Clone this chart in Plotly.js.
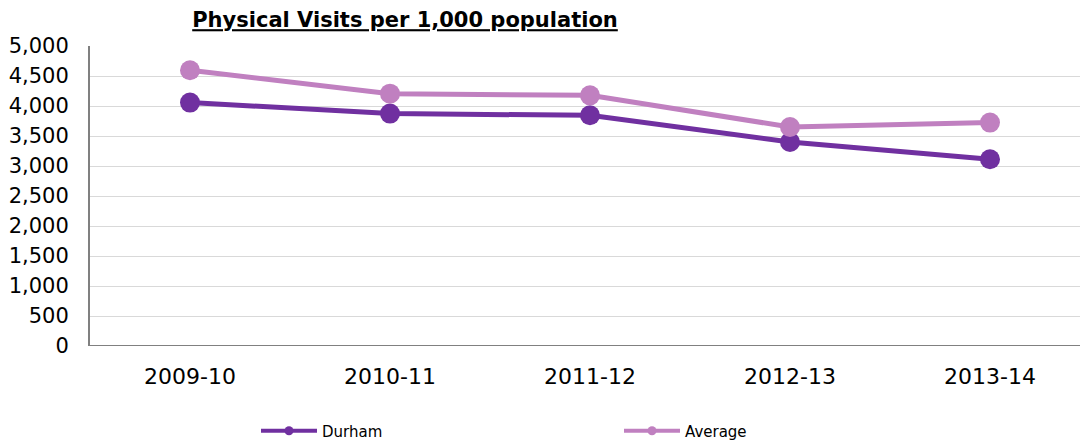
<!DOCTYPE html>
<html>
<head>
<meta charset="utf-8">
<script src="https://cdn.plot.ly/plotly-3.0.1.min.js"></script>
<style>html,body{margin:0;padding:0;background:#fff;}#chart{width:1081px;height:441px;}</style>
</head>
<body>
<div id="chart"></div>
<script>
const categories = ["2009-10", "2010-11", "2011-12", "2012-13", "2013-14"];
const durham = [4057, 3873, 3845, 3400, 3112];
const average = [4595, 4206, 4178, 3650, 3723];
const seriesNames = ["Durham", "Average"];
const seriesColors = ["#7030a0", "#c080c0"];
const yTickVals = [0, 500, 1000, 1500, 2000, 2500, 3000, 3500, 4000, 4500, 5000];
const yTickText = ["0", "500", "1,000", "1,500", "2,000", "2,500", "3,000", "3,500", "4,000", "4,500", "5,000"];

const seriesValues = [durham, average];
const traces = [];
seriesValues.forEach((vals, i) => {
  traces.push({x: categories, y: vals, name: seriesNames[i], type: "scatter", mode: "lines+markers",
    showlegend: false, line: {color: seriesColors[i], width: 5}, marker: {color: seriesColors[i], size: 20}});
});
// legend-only entries (smaller symbol as in the reference legend)
seriesNames.forEach((n, i) => {
  traces.push({x: [null], y: [null], name: n, type: "scatter", mode: "lines+markers",
    line: {color: seriesColors[i], width: 4}, marker: {color: seriesColors[i], size: 9}});
});

const layout = {
  width: 1081, height: 441,
  margin: {l: 90, r: 1, t: 46, b: 95, autoexpand: false},
  paper_bgcolor: "#fff", plot_bgcolor: "#fff",
  font: {family: "DejaVu Sans, Verdana, sans-serif", color: "#000"},
  title: {text: "<b><u>Physical Visits per 1,000 population</u></b>", x: 405/1081, xanchor: "center", y: 0.955, yanchor: "middle",
          font: {size: 21, color: "#000", family: "DejaVu Sans, Verdana, sans-serif"}},
  xaxis: {type: "category", range: [-0.5, 4.45], showgrid: false, zeroline: false,
          showline: false, ticks: "", tickfont: {size: 22}, ticklabelstandoff: 15},
  yaxis: {range: [0, 5000], tickvals: yTickVals, ticktext: yTickText, showgrid: true, gridcolor: "#d9d9d9", gridwidth: 1,
          zeroline: false, showline: true, linecolor: "#808080", linewidth: 2, ticks: "", tickfont: {size: 21},
          ticklabelstandoff: 15},
  shapes: [{type: "line", xref: "paper", yref: "y", x0: 0, x1: 1, y0: 0, y1: 0, line: {color: "#808080", width: 2}}],
  showlegend: true,
  legend: {orientation: "h", xref: "container", yref: "container", x: 256/1081, xanchor: "left", y: 10/441, yanchor: "middle",
           font: {size: 15}, itemwidth: 56, entrywidth: 292, entrywidthmode: "pixels", traceorder: "normal", bgcolor: "rgba(0,0,0,0)"}
};

Plotly.newPlot("chart", traces, layout, {displayModeBar: false, staticPlot: true});
</script>
</body>
</html>
